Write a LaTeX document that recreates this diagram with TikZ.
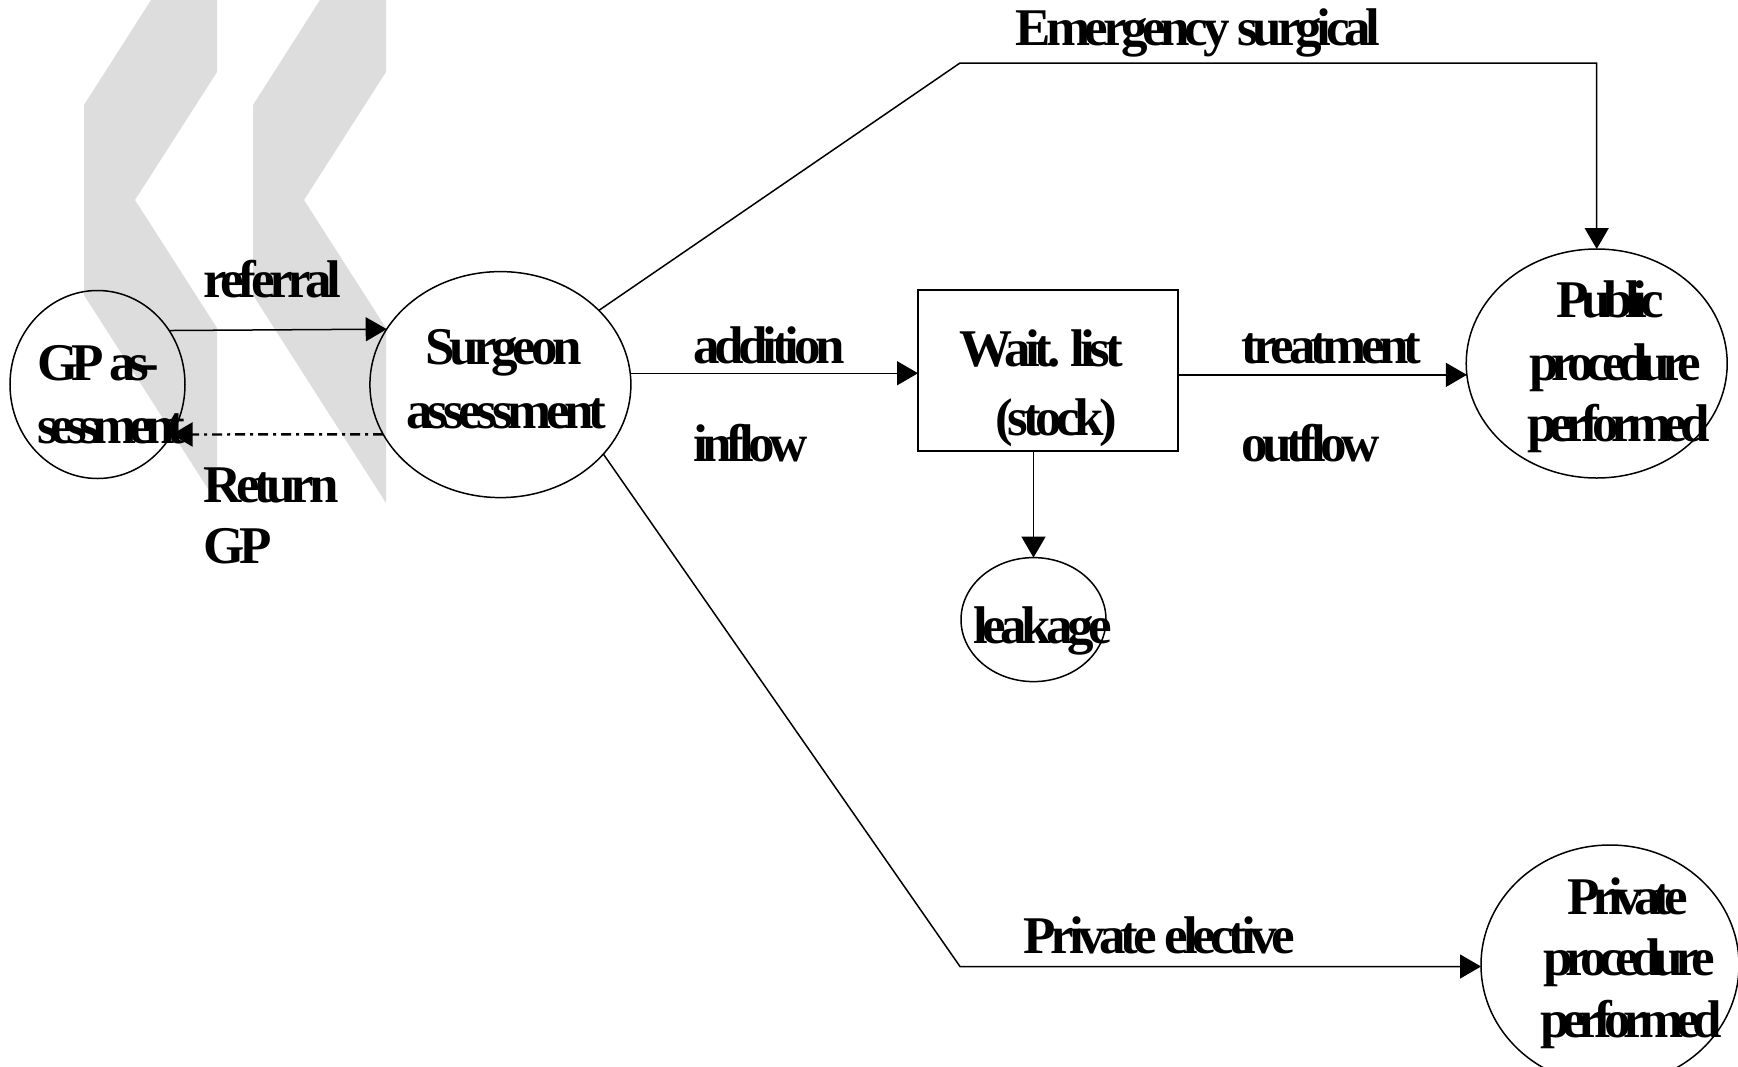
\documentclass[tikz,border=0pt]{standalone}
\usepackage{fontspec}
\usepackage{tikz}
\usetikzlibrary{arrows.meta,positioning,shapes.geometric}
\newfontfamily\flowfont[LetterSpace=-10]{Liberation Serif}
\newfontfamily\tightfont[LetterSpace=-14]{Liberation Serif}
\definecolor{ink}{HTML}{000000}
\definecolor{wmgray}{HTML}{DDDDDD}
\tikzset{
  stage/.style={draw=ink,ellipse,line width=1.5pt,inner sep=0pt,outer sep=0pt},
  stockbox/.style={draw=ink,rectangle,line width=1.5pt,inner sep=0pt,outer sep=0pt,
                   minimum width=260pt,minimum height=161pt},
  txt/.style={font=\flowfont\bfseries\fontsize{53}{62}\selectfont,inner sep=0pt,anchor=base},
  tighttxt/.style={txt,font=\tightfont\bfseries\fontsize{53}{62}\selectfont},
  flowarr/.style={-{Triangle[length=21pt,width=24pt]},line width=1.5pt,draw=ink},
  backarr/.style={flowarr,line width=2.4pt,dash pattern=on 10pt off 5pt on 3pt off 5pt}
}

\begin{document}
\begin{tikzpicture}[x=1pt,y=-1pt]
  \useasboundingbox (0,0) rectangle (1738,1066);
  \clip (0,0) rectangle (1738,1066);
  \fill[white] (0,0) rectangle (1738,1066);
  % watermark
  \fill[wmgray] (151,0)--(217,0)--(217,72)--(135,200)--(217,328)--(217,503)--(84,295)--(84,105)--cycle;
  \fill[wmgray] (320,0)--(386,0)--(386,72)--(304,200)--(386,328)--(386,503)--(253,295)--(253,105)--cycle;

  \node[stage,minimum width=175pt,minimum height=188pt] (gp) at (97.5,384.5) {};
  \node[stage,minimum width=261pt,minimum height=226pt] (surg) at (500.4,384.6) {};
  \node[stockbox] (wait) at (1048,370.7) {};
  \node[stage,minimum width=261pt,minimum height=229pt] (pub) at (1596.7,363.5) {};
  \node[stage,minimum width=258pt,minimum height=240pt] (priv) at (1610,965) {};
  \node[stage,minimum width=145pt,minimum height=124pt] (leak) at (1033.5,619.6) {};
  \coordinate (emcorner) at (960,63);
  \coordinate (prcorner) at (960,966.5);

  \node[tighttxt,anchor=base west] (gpa) at (37,380) {GP as-};
  \node[tighttxt,anchor=base west] (gpb) at (37,443) {sessment};
  \node[txt] (surga) at (503.5,364) {Surgeon};
  \node[txt] (surgb) at (506.5,428) {assessment};
  \node[txt] (waita) at (1041,366) {Wait. list};
  \node[txt] (waitb) at (1056,435) {(stock)};
  \node[tighttxt] (puba) at (1610,317) {Public};
  \node[tighttxt] (pubb) at (1615.5,380) {procedure};
  \node[tighttxt] (pubc) at (1618.5,441) {performed};
  \node[tighttxt] (priva) at (1627.5,914) {Private};
  \node[tighttxt] (privb) at (1629,975) {procedure};
  \node[tighttxt] (privc) at (1631,1037) {performed};
  \node[txt] (leaka) at (1042.5,643) {leakage};

  \node[txt,anchor=base west] (refl) at (203,297) {referral};
  \node[txt,anchor=base west] (retl) at (203,502) {Return};
  \node[txt,anchor=base west] (retm) at (203,563) {GP};
  \node[txt,anchor=base west] (addl) at (693,363) {addition};
  \node[txt,anchor=base west] (addm) at (693,461) {inflow};
  \node[txt,anchor=base west] (trel) at (1241,363) {treatment};
  \node[txt,anchor=base west] (trem) at (1241,461) {outflow};
  \node[txt] (emel) at (1198,45) {Emergency surgical};
  \node[txt] (prel) at (1159.5,953) {Private elective};

  \draw[flowarr] (gp.37) -- (surg.154);
  \draw[backarr] (surg.203) -- (gp.326);
  \draw[flowarr] (surg.5) -- (surg.5 -| wait.west);
  \draw[flowarr] (pub.185 -| wait.east) -- (pub.185);
  \draw[flowarr] (leak.north |- wait.south) -- (leak.north);
  \draw[flowarr] (surg.37) -- (emcorner) -- (emcorner -| pub.north) -- (pub.north);
  \draw[flowarr] (surg.326) -- (prcorner) -- (prcorner -| priv.west);
\end{tikzpicture}
\end{document}
